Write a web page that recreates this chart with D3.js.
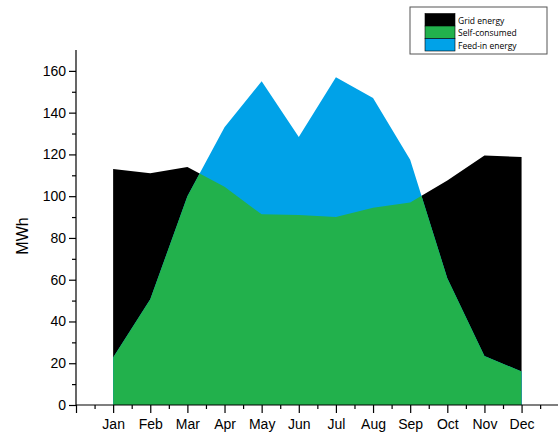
<!DOCTYPE html>
<html>
<head>
<meta charset="utf-8">
<script src="https://cdn.jsdelivr.net/npm/d3@7"></script>
<style>
  html, body { margin: 0; padding: 0; background: #fff; }
  svg { display: block; }
  .axis text { font-family: "Liberation Sans", Arial, sans-serif; font-size: 14px; fill: #000; }
  .axis path, .axis line { stroke: #000; stroke-width: 1.2; }
</style>
</head>
<body>
<svg id="chart" width="558" height="434"></svg>
<script>
// Monthly energy balance (MWh)
const months = ["Jan","Feb","Mar","Apr","May","Jun","Jul","Aug","Sep","Oct","Nov","Dec"];
// Site electricity demand per month
const consumption = [113, 111, 114, 104.5, 91.3, 91, 90, 94.5, 97, 107.5, 119.5, 118.8];
// PV production per month
const generation = [22.7, 50.6, 100, 133, 155, 128.3, 157, 147, 117.4, 60.7, 23.5, 16];
const yTicks = [0, 20, 40, 60, 80, 100, 120, 140, 160];
const legendItems = [
  { label: "Grid energy", color: "#000000" },
  { label: "Self-consumed", color: "#22b14c" },
  { label: "Feed-in energy", color: "#00a2e8" }
];

const svg = d3.select("#chart");

const x = d3.scaleLinear().domain([-1, 12]).range([76, 558.7]);
const y = d3.scaleLinear().domain([0, 170]).range([405, 50]);

const area = vals => d3.area()
  .x((d, i) => x(i))
  .y0(y(0))
  .y1(d => y(d))(vals);

// Demand not covered by PV -> grid energy (black)
svg.append("path").attr("d", area(consumption)).attr("fill", "#000");
// PV production above demand -> feed-in (blue)
svg.append("path").attr("d", area(generation)).attr("fill", "#00a2e8");
// Overlap of demand and production -> self-consumed (green)
svg.append("clipPath").attr("id", "demandClip")
  .append("path").attr("d", area(consumption));
svg.append("path").attr("d", area(generation))
  .attr("fill", "#22b14c")
  .attr("clip-path", "url(#demandClip)");

// Y axis with minor ticks every 10
const yMinor = d3.range(10, 170, 20);
svg.append("g").attr("class", "axis")
  .attr("transform", `translate(${x(-1)},0)`)
  .call(d3.axisLeft(y).tickValues(yMinor).tickSize(4).tickFormat(""))
  .call(g => g.select(".domain").remove());
svg.append("g").attr("class", "axis")
  .attr("transform", `translate(${x(-1)},0)`)
  .call(d3.axisLeft(y).tickValues(yTicks).tickSize(7).tickSizeOuter(0).tickPadding(3))
  .call(g => g.select(".domain").attr("d", `M0,${y(0)}V${y(170)}`));

// X axis: month ticks plus half-month minor ticks
const xMinor = d3.range(-0.5, 12, 1);
svg.append("g").attr("class", "axis")
  .attr("transform", `translate(0,${y(0)})`)
  .call(d3.axisBottom(x).tickValues(xMinor).tickSize(4).tickFormat(""))
  .call(g => g.select(".domain").remove());
svg.append("g").attr("class", "axis")
  .attr("transform", `translate(0,${y(0)})`)
  .call(d3.axisBottom(x).tickValues(d3.range(-1, 12)).tickSize(8).tickSizeOuter(0)
    .tickPadding(6).tickFormat(i => i >= 0 ? months[i] : ""))
  .call(g => g.select(".domain").attr("d", `M${x(-1)},0H558`));

// Y axis title
svg.append("text")
  .attr("transform", "translate(28,236) rotate(-90)")
  .attr("text-anchor", "middle")
  .attr("font-family", "Liberation Sans, Arial, sans-serif")
  .attr("font-size", 16)
  .text("MWh");

// Legend
const lg = svg.append("g").attr("transform", "translate(410,7)");
lg.append("rect").attr("width", 137).attr("height", 47)
  .attr("fill", "#fff").attr("stroke", "#555").attr("stroke-width", 1);
legendItems.forEach((d, i) => {
  lg.append("rect").attr("x", 15).attr("y", 6.5 + i * 12.5)
    .attr("width", 30).attr("height", 12.5)
    .attr("fill", d.color).attr("stroke", "#000").attr("stroke-width", 0.6);
  lg.append("text").attr("x", 48).attr("y", 16.5 + i * 12.5)
    .attr("font-family", "Open Sans, sans-serif").attr("font-size", 8.5)
    .attr("fill", "#000").text(d.label);
});
</script>
</body>
</html>
